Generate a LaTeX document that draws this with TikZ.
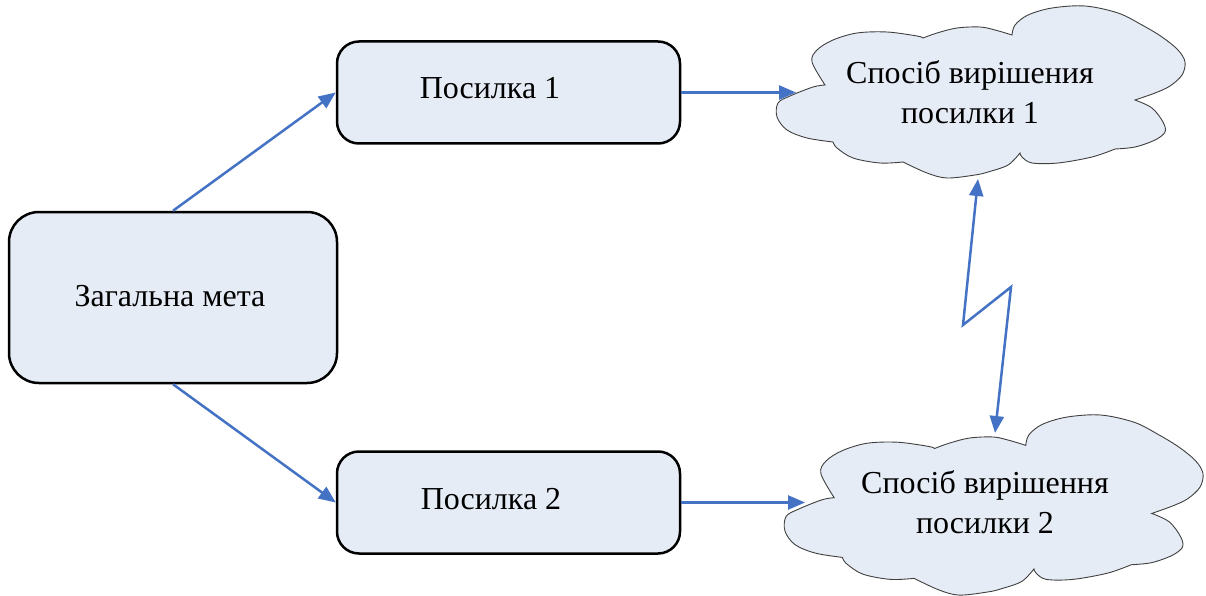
\documentclass[tikz,border=0pt]{standalone}
\usepackage{fontspec}
\setmainfont{Liberation Serif}
\usetikzlibrary{arrows.meta}
\definecolor{boxfill}{RGB}{230,236,246}
\definecolor{arrowblue}{RGB}{68,114,196}
\newcommand\cloudoutline{%
  plot[smooth,tension=0.55] coordinates {(56,136) (30,132) (10,124) (0,111) (1,97) (13,90) (36,81) (48,79)}
  -- plot[smooth,tension=0.55] coordinates {(48,79) (35,56) (40,44) (56,34) (80,27) (110,26) (140,30) (146,32)}
  -- plot[smooth,tension=0.55] coordinates {(146,32) (160,27) (180,22) (203,21) (218,24) (235,29)}
  -- plot[smooth,tension=0.55] coordinates {(235,29) (238,19) (251,9) (275,2) (308,0) (341,7) (365,19) (385,31) (401,44) (408,56) (405,69) (393,80) (378,87) (358,94)}
  -- plot[smooth,tension=0.55] coordinates {(358,94) (375,102) (386,116) (388,126) (378,134) (358,141) (338,143)}
  -- plot[smooth,tension=0.55] coordinates {(338,143) (315,151) (281,157) (255,157) (245,151) (243,147)}
  -- plot[smooth,tension=0.55] coordinates {(243,147) (231,159) (211,166) (198,169) (170,172) (150,167) (126,156)}
  -- plot[smooth,tension=0.55] coordinates {(126,156) (103,157) (76,152) (60,142) (56,136)}
  -- cycle}
\tikzset{
  box/.style={draw=black, line width=2.5pt, fill=boxfill, rectangle},
  txt/.style={font=\fontsize{32}{40}\selectfont, align=center, inner sep=0pt},
  arr/.style={draw=arrowblue, line width=2.5pt, -{Triangle[length=17pt,width=14pt]}},
  cloudline/.style={draw=black!75, line width=0.9pt, fill=boxfill, line join=miter},
}
\begin{document}
\begin{tikzpicture}[x=1pt,y=-1pt]
\useasboundingbox (0,0) rectangle (1206,596);

% clouds
\begin{scope}[shift={(777,6)}]
  \path[cloudline] \cloudoutline;
\end{scope}
\begin{scope}[shift={(785,415)}, xscale=1.0245, yscale=1.047]
  \path[cloudline] \cloudoutline;
\end{scope}

% boxes
\node[box, minimum width=343pt, minimum height=102pt, rounded corners=22pt] (p1) at (508.5,92.5) {};
\node[box, minimum width=343pt, minimum height=102pt, rounded corners=22pt] (p2) at (508.5,502.5) {};
\node[box, minimum width=328pt, minimum height=171pt, rounded corners=30pt] (m) at (173,297.5) {};

% texts
\node[txt] (mt) at (170,296) {Загальна мета};
\node[txt] (t1) at (490,88) {Посилка 1};
\node[txt] (t2) at (491,499) {Посилка 2};
\node[txt] (c1) at (970,92) {Спосіб вирішения\\посилки 1};
\node[txt] (c2) at (985,502) {Спосіб вирішення\\посилки 2};

% connector end points on the clouds
\coordinate (c1in) at (796,92.5);
\coordinate (c2in) at (805,502.5);
\coordinate (l1) at (978,179);
\coordinate (l2) at (963,325);
\coordinate (l3) at (1011,287);
\coordinate (l4) at (995,433);

% connectors
\draw[arr] (m.north) -- (p1.west);
\draw[arr] (m.south) -- (p2.west);
\draw[arr] (p1.east) -- (c1in);
\draw[arr] (p2.east) -- (c2in);
\draw[arr, line join=miter, {Triangle[length=17pt,width=14pt]}-{Triangle[length=17pt,width=14pt]}] (l1) -- (l2) -- (l3) -- (l4);
\end{tikzpicture}
\end{document}
